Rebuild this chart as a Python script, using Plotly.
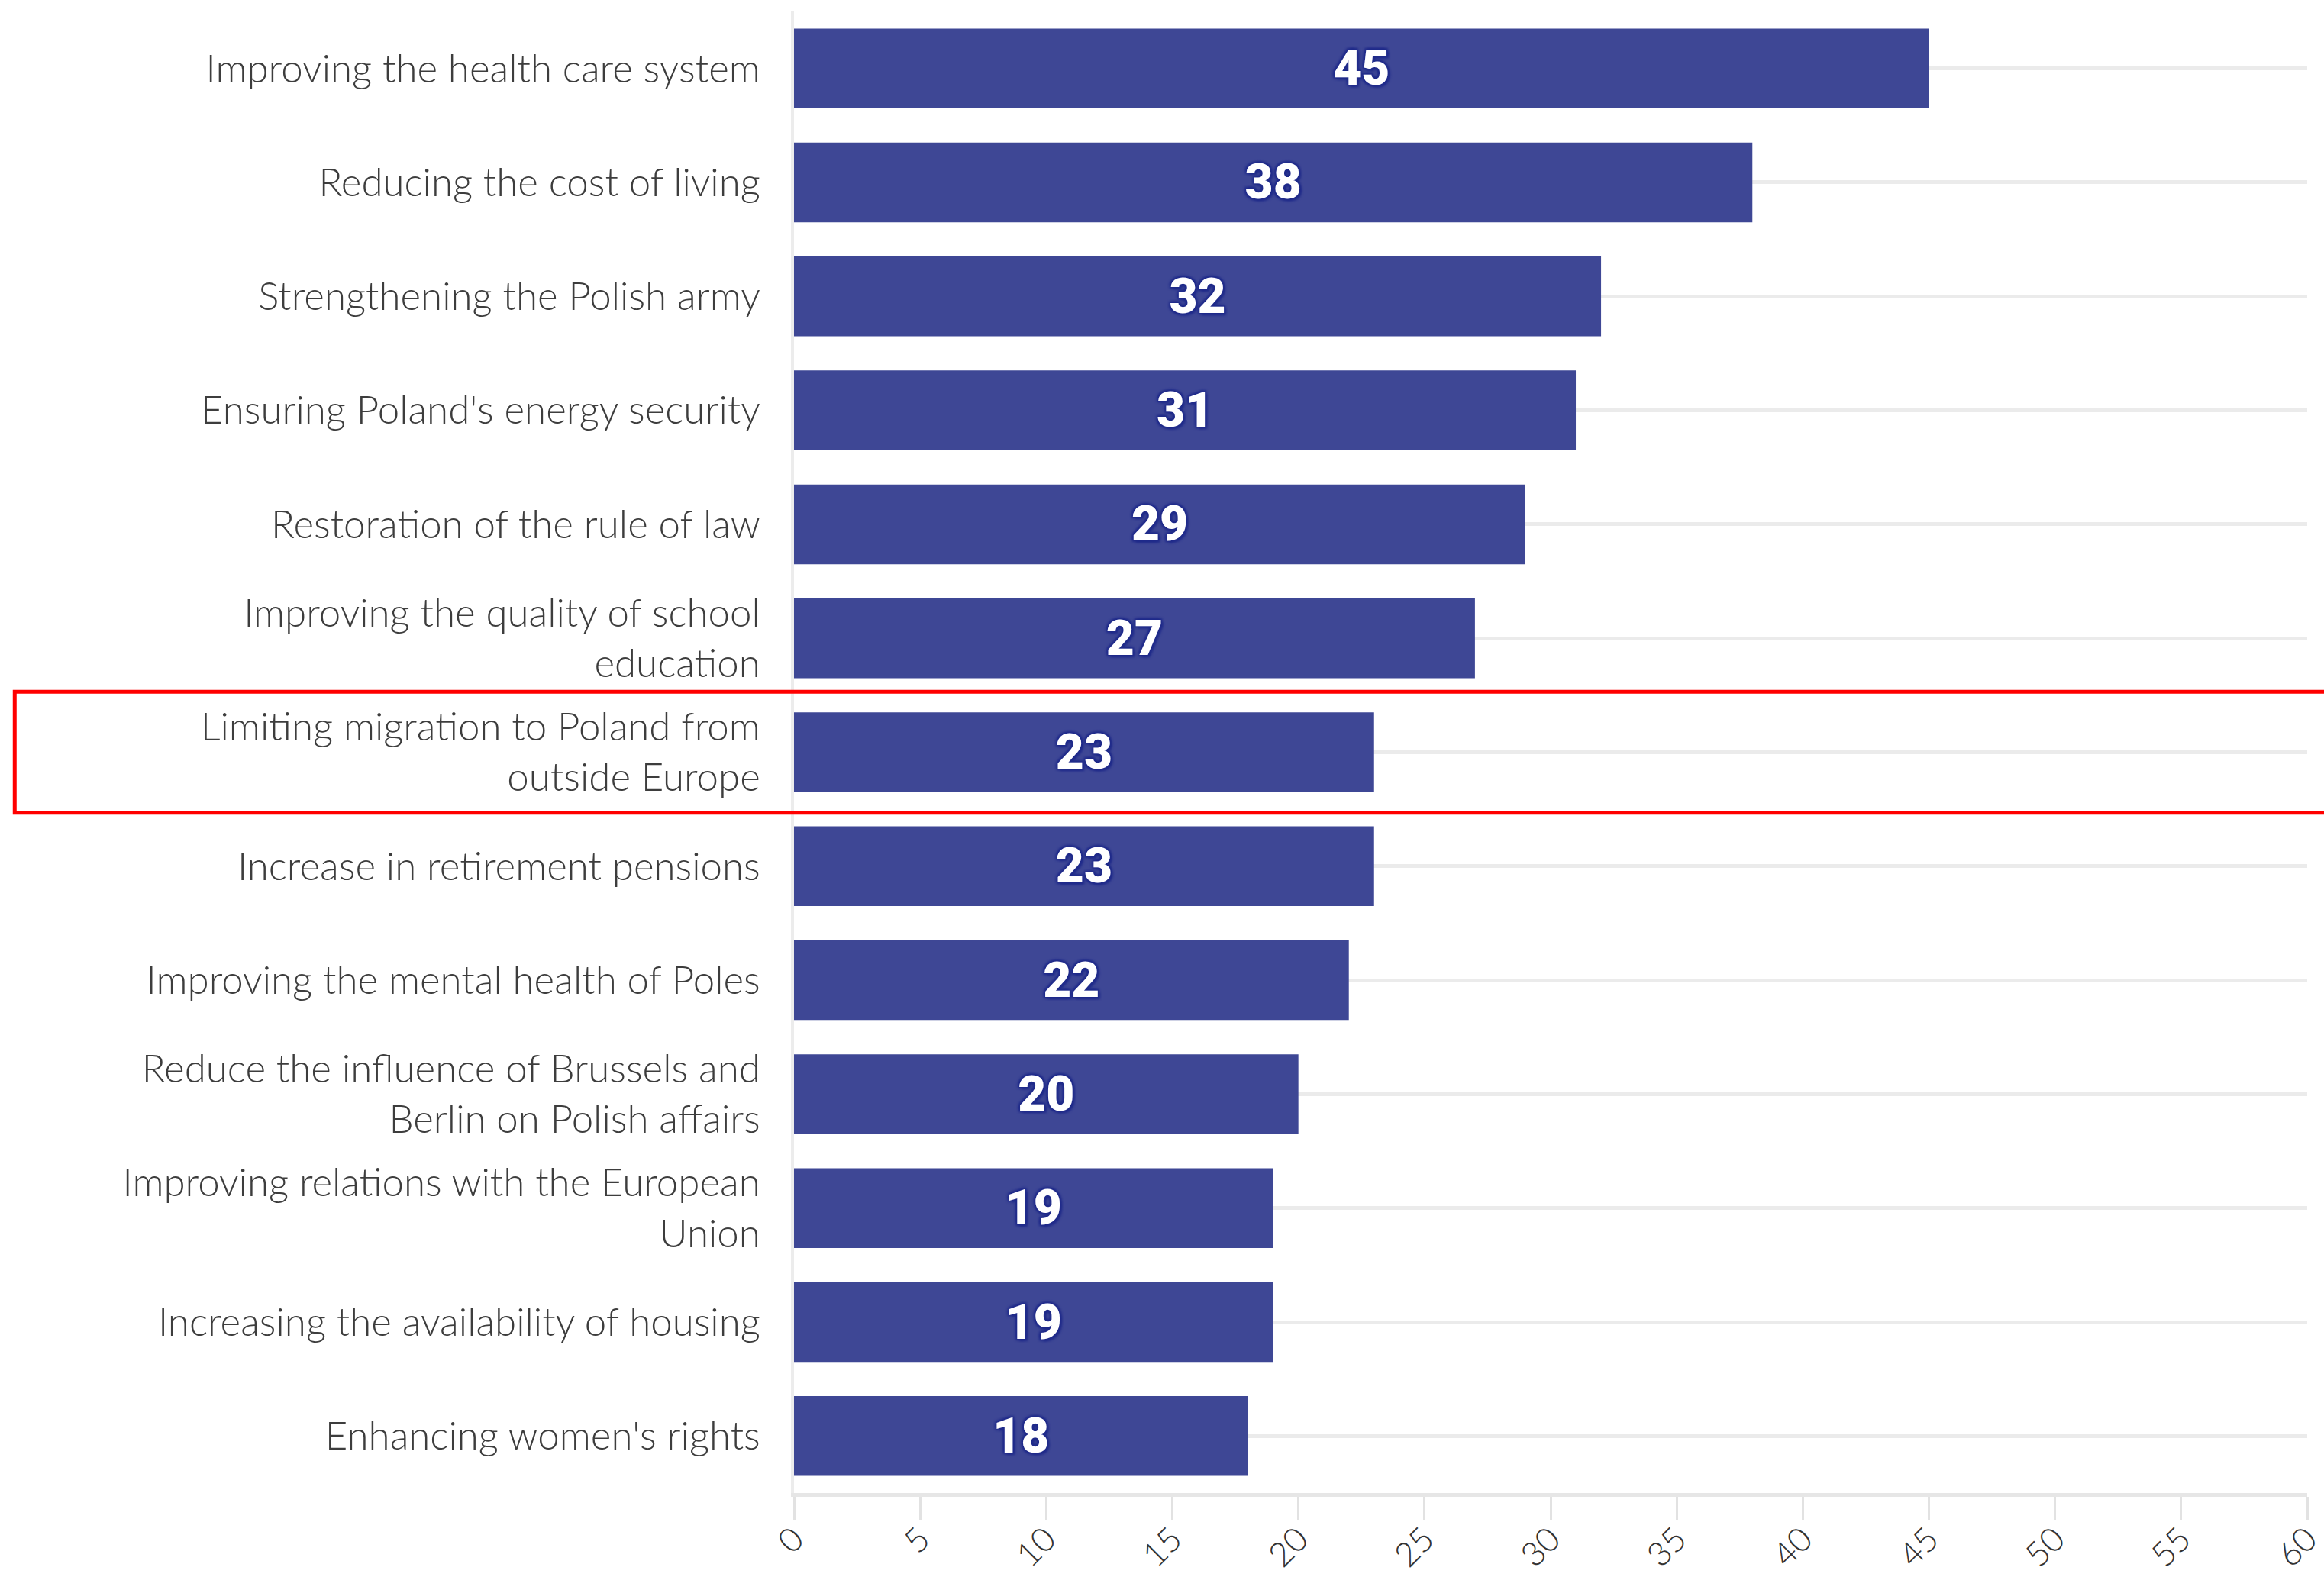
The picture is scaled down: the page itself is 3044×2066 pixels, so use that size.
import plotly.graph_objects as go

# Survey results: share of respondents naming each priority (%)
categories = [
    "Improving the health care system",
    "Reducing the cost of living",
    "Strengthening the Polish army",
    "Ensuring Poland's energy security",
    "Restoration of the rule of law",
    "Improving the quality of school<br>education",
    "Limiting migration to Poland from<br>outside Europe",
    "Increase in retirement pensions",
    "Improving the mental health of Poles",
    "Reduce the influence of Brussels and<br>Berlin on Polish affairs",
    "Improving relations with the European<br>Union",
    "Increasing the availability of housing",
    "Enhancing women's rights",
]
values = [45, 38, 32, 31, 29, 27, 23, 23, 22, 20, 19, 19, 18]
highlighted = "Limiting migration to Poland from<br>outside Europe"

x_ticks = list(range(0, 61, 5))

BAR = "#3e4795"
GRID = "#ebebeb"
LABEL_FONT = "Lato"

fig = go.Figure(
    go.Bar(
        x=values,
        y=categories,
        orientation="h",
        marker=dict(color=BAR, line=dict(width=0)),
        text=[str(v) for v in values],
        textposition="inside",
        insidetextanchor="middle",
        textangle=0,
        textfont=dict(
            family="Roboto", size=64, color="white", weight=900,
            shadow="3px 3px 3px #1f2a8a, -2px -2px 3px #1f2a8a, 2px -2px 3px #1f2a8a, -2px 2px 3px #1f2a8a",
        ),
        cliponaxis=False,
        hoverinfo="skip",
    )
)

hi = categories.index(highlighted)

fig.update_layout(
    width=3044,
    height=2066,
    margin=dict(l=1040, r=22, t=15, b=110, autoexpand=False),
    paper_bgcolor="white",
    plot_bgcolor="white",
    bargap=0.3,
    showlegend=False,
    font=dict(family=LABEL_FONT, color="#3d3d3d"),
    xaxis=dict(
        range=[0, 60],
        tickvals=x_ticks,
        ticktext=[str(t) for t in x_ticks],
        tickangle=-45,
        tickfont=dict(family=LABEL_FONT, size=44, color="#333333", weight=300),
        ticklabelstandoff=-18,
        ticks="outside",
        ticklen=30,
        tickwidth=3,
        tickcolor="#e2e2e2",
        showgrid=False,
        zeroline=False,
        showline=True,
        linecolor="#e6e6e6",
        linewidth=5,
        automargin=False,
        fixedrange=True,
    ),
    yaxis=dict(
        categoryorder="array",
        categoryarray=categories,
        autorange="reversed",
        tickfont=dict(family=LABEL_FONT, size=51, color="#3d3d3d", weight=300),
        ticklabelstandoff=30,
        showgrid=True,
        gridcolor=GRID,
        gridwidth=5,
        showline=True,
        linecolor="#ececec",
        linewidth=4,
        ticks="",
        zeroline=False,
        automargin=False,
        fixedrange=True,
    ),
    shapes=[
        dict(
            type="rect",
            xref="paper",
            yref="y",
            x0=-0.515,
            x1=1.03,
            y0=hi - 0.53,
            y1=hi + 0.53,
            line=dict(color="#ff0000", width=5),
            fillcolor="rgba(0,0,0,0)",
            layer="above",
        )
    ],
)

fig.write_html("out.html")
